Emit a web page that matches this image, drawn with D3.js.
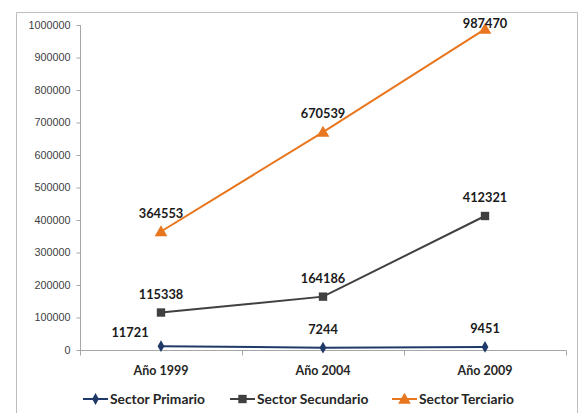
<!DOCTYPE html>
<html><head><meta charset="utf-8">
<script src="https://cdn.jsdelivr.net/npm/d3@7"></script>
<style>body{margin:0;background:#fff;} svg{display:block;font-family:Lato,"Open Sans",sans-serif;}</style>
</head><body><svg id="c" width="581" height="413"></svg>
<script>
const categories = ["Año 1999", "Año 2004", "Año 2009"];
const seriesNames = ["Sector Primario", "Sector Secundario", "Sector Terciario"];
const primario = [11721, 7244, 9451];
const secundario = [115338, 164186, 412321];
const terciario = [364553, 670539, 987470];
const yTicks = [0,100000,200000,300000,400000,500000,600000,700000,800000,900000,1000000];

const colors = ["#1f3a68", "#404040", "#e8761e"];
const shapes = [d3.symbolDiamond, d3.symbolSquare, d3.symbolTriangle];
const sizes = [40, 70, 70];
const labelDx = [[-31,0,0],[0,0,0],[0,0,0]];
const labelDy = [[9,14,14],[14,14,14],[14,14,1]];

const svg = d3.select("#c");
svg.append("path").attr("d","M16.5,413 V12.5 H577.5 V413").attr("fill","none").attr("stroke","#bdbdbd").attr("stroke-width",1);

const x = d3.scaleBand().domain(categories).range([80,566]);
const y = d3.scaleLinear().domain([0,1000000]).range([350,25]);

const axisColor = "#a6a6a6";
const yAxis = svg.append("g").attr("transform","translate(80.5,0)")
  .call(d3.axisLeft(y).tickValues(yTicks).tickSize(4).tickPadding(6).tickFormat(d3.format("d")));
yAxis.select(".domain").attr("d","M-0,25V355").attr("stroke",axisColor);
yAxis.selectAll(".tick line").attr("stroke",axisColor);
yAxis.selectAll("text").attr("fill","#404040").attr("font-size","10.8px");

const xAxis = svg.append("g").attr("transform","translate(0,350.5)");
xAxis.append("line").attr("x1",80).attr("x2",566).attr("stroke",axisColor);
const bounds = categories.map(c=>x(c)).concat([x(categories[2])+x.bandwidth()]);
xAxis.selectAll("line.t").data(bounds).join("line").attr("class","t")
  .attr("x1",d=>Math.round(d)+0.5).attr("x2",d=>Math.round(d)+0.5).attr("y1",0).attr("y2",5).attr("stroke",axisColor);
xAxis.selectAll("text").data(categories).join("text")
  .attr("x",d=>x(d)+x.bandwidth()/2).attr("y",24).attr("text-anchor","middle")
  .attr("font-weight","bold").attr("font-size","12.5px").attr("fill","#262626").text(d=>d);

const allSeries = [primario, secundario, terciario];
const cx = c => x(c)+x.bandwidth()/2;
const line = d3.line().x((d,i)=>cx(categories[i])).y(d=>y(d));

allSeries.forEach((s,k)=>{
  svg.append("path").attr("d",line(s)).attr("fill","none").attr("stroke",colors[k]).attr("stroke-width",2);
});
allSeries.forEach((s,k)=>{
  svg.selectAll("path.m"+k).data(s).join("path").attr("class","m"+k)
    .attr("transform",(d,i)=>`translate(${cx(categories[i])},${y(d)+(k===2?1:0)})`)
    .attr("d",d3.symbol().type(shapes[k]).size(sizes[k])).attr("fill",colors[k]);
});
allSeries.forEach((s,k)=>{
  svg.selectAll("text.l"+k).data(s).join("text").attr("class","l"+k)
    .attr("x",(d,i)=>cx(categories[i])+labelDx[k][i]).attr("y",(d,i)=>y(d)-labelDy[k][i])
    .attr("text-anchor","middle").attr("font-weight","bold").attr("font-size","12.8px").attr("fill","#1a1a1a")
    .text(d=>d);
});

const legX = [83, 230, 392];
const lg = svg.selectAll("g.leg").data(seriesNames).join("g").attr("class","leg")
  .attr("transform",(d,i)=>`translate(${legX[i]},399)`);
lg.append("line").attr("x1",0).attr("x2",25).attr("stroke",(d,i)=>colors[i]).attr("stroke-width",2);
lg.append("path").attr("transform",(d,i)=>`translate(12.5,${i===2?1:0})`)
  .attr("d",(d,i)=>d3.symbol().type(shapes[i]).size(sizes[i])()).attr("fill",(d,i)=>colors[i]);
lg.append("text").attr("x",27).attr("y",4.5).attr("font-weight","bold").attr("font-size","13.8px").attr("fill","#262626").text(d=>d);
</script></body></html>
